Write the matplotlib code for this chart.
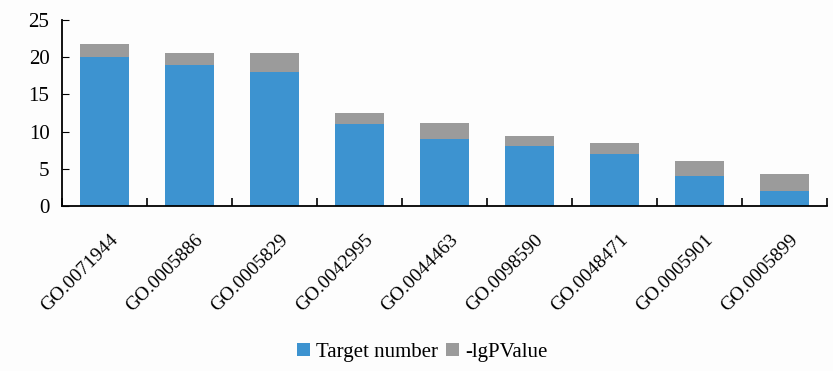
import numpy as np
import matplotlib.pyplot as plt
from matplotlib.transforms import ScaledTranslation

# GO terms and values
go_terms = ['GO.0071944', 'GO.0005886', 'GO.0005829', 'GO.0042995', 'GO.0044463',
            'GO.0098590', 'GO.0048471', 'GO.0005901', 'GO.0005899']
target_number = [20, 19, 18, 11, 9, 8, 7, 4, 2]
lg_pvalue = [1.8, 1.5, 2.5, 1.5, 2.1, 1.4, 1.5, 2.1, 2.3]

FONT = 'Liberation Serif'

fig = plt.figure(figsize=(8.33, 3.71), dpi=100)
fig.patch.set_facecolor('#fdfdfd')
ax = fig.add_axes([62 / 833, 1 - 206 / 371, 765 / 833, 186 / 371])
ax.set_facecolor('#fdfdfd')

x = np.arange(len(go_terms))
ax.bar(x, target_number, width=0.57, color='#3d93d0', label='Target number')
ax.bar(x, lg_pvalue, width=0.57, bottom=target_number, color='#9b9b9b', label='-lgPValue')

ax.set_xlim(-0.5, len(go_terms) - 0.5)
ax.set_ylim(0, 25)
ax.set_yticks([0, 5, 10, 15, 20, 25])
ax.set_yticklabels(['0', '5', '10', '15', '20', '25'], fontfamily=FONT, fontsize=15)
ax.tick_params(axis='y', direction='in', length=5, pad=9)

# category boundaries get the tick marks, labels sit on minor ticks
ax.set_xticks(np.arange(-0.5, len(go_terms)), minor=False)
ax.set_xticklabels([])
ax.tick_params(axis='x', direction='in', length=6, width=1.2)
ax.set_xticks(x, minor=True)
ax.set_xticklabels(go_terms, minor=True, rotation=45, ha='right', va='top',
                   rotation_mode='anchor', fontsize=14, fontfamily=FONT)
ax.tick_params(axis='x', which='minor', length=0, pad=0)
offset = ScaledTranslation(0.05, -0.25, fig.dpi_scale_trans)
for lbl in ax.get_xticklabels(minor=True):
    lbl.set_transform(lbl.get_transform() + offset)

for side in ['top', 'right']:
    ax.spines[side].set_visible(False)
for side in ['left', 'bottom']:
    ax.spines[side].set_linewidth(1.3)

fig.legend(loc='center', bbox_to_anchor=(0.507, 0.05), ncol=2, frameon=False,
           prop={'family': FONT, 'size': 15}, handlelength=0.6, handleheight=0.6,
           handletextpad=0.3, columnspacing=0.4)

fig.savefig('out.png', dpi=100, facecolor=fig.get_facecolor())
